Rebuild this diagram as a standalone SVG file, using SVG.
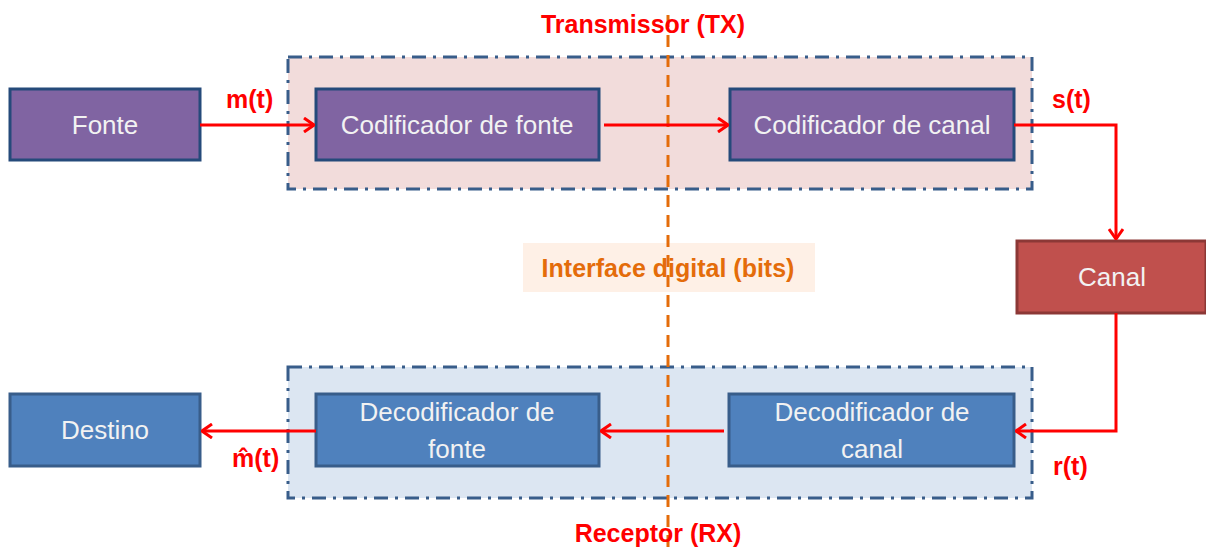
<svg xmlns="http://www.w3.org/2000/svg" width="1206" height="547" viewBox="0 0 1206 547">
<defs>
<style>
.grp{stroke:#385D8A;stroke-width:3;stroke-dasharray:14,7,3,7}
.tx{fill:#F2DCDB}
.rx{fill:#DCE6F2}
.purple{fill:#8064A2;stroke:#254A7A;stroke-width:3}
.blue{fill:#4F81BD;stroke:#385D8A;stroke-width:3}
.red{fill:#C0504D;stroke:#8C3836;stroke-width:3}
.nt{font-family:"Liberation Sans",Arial,sans-serif;font-size:26px;fill:#F2F2F2;text-anchor:middle}
.lbl{font-family:"Liberation Sans",Arial,sans-serif;font-size:25px;font-weight:bold;fill:#FF0000}
.conn{stroke:#FF0000;stroke-width:3;fill:none}
</style>
<marker id="arr" viewBox="0 0 12 16" refX="11" refY="8" markerWidth="12" markerHeight="16" markerUnits="userSpaceOnUse" orient="auto">
<path d="M1,1 L11,8 L1,15" fill="none" stroke="#FF0000" stroke-width="3"/>
</marker>
</defs>
<rect width="1206" height="547" fill="#FFFFFF"/>
<g id="tx-group">
<rect class="grp tx" x="288" y="57" width="744" height="132"/>
</g>
<g id="rx-group">
<rect class="grp rx" x="288" y="367" width="744" height="131"/>
</g>
<g id="interface">
<rect x="523" y="243" width="292" height="49" fill="#FEF0E6"/>
<line x1="668" y1="15" x2="668" y2="547" stroke="#E46C0A" stroke-width="3" stroke-dasharray="12,8"/>
<text x="668" y="277" font-family="Liberation Sans,Arial,sans-serif" font-size="25" font-weight="bold" fill="#E46C0A" text-anchor="middle">Interface digital (bits)</text>
</g>
<g id="fonte"><rect class="purple" x="10" y="89" width="190" height="71"/><text class="nt" x="105" y="134">Fonte</text></g>
<g id="cod-fonte"><rect class="purple" x="316" y="89" width="283" height="71"/><text class="nt" x="457" y="134">Codificador de fonte</text></g>
<g id="cod-canal"><rect class="purple" x="730" y="89" width="284" height="71"/><text class="nt" x="872" y="134">Codificador de canal</text></g>
<g id="canal"><rect class="red" x="1017" y="241" width="189" height="72"/><text class="nt" x="1112" y="286">Canal</text></g>
<g id="dec-canal"><rect class="blue" x="729" y="394" width="285" height="72"/><text class="nt" x="872" y="421">Decodificador de</text><text class="nt" x="872" y="458">canal</text></g>
<g id="dec-fonte"><rect class="blue" x="316" y="394" width="283" height="72"/><text class="nt" x="457" y="421">Decodificador de</text><text class="nt" x="457" y="458">fonte</text></g>
<g id="destino"><rect class="blue" x="10" y="394" width="190" height="72"/><text class="nt" x="105" y="439">Destino</text></g>
<g id="connectors">
<line class="conn" x1="200" y1="125" x2="314" y2="125" marker-end="url(#arr)"/>
<line class="conn" x1="604" y1="125" x2="728" y2="125" marker-end="url(#arr)"/>
<polyline class="conn" points="1014,125 1116,125 1116,239" marker-end="url(#arr)"/>
<polyline class="conn" points="1116,313 1116,431 1016,431" marker-end="url(#arr)"/>
<line class="conn" x1="724" y1="431" x2="601" y2="431" marker-end="url(#arr)"/>
<line class="conn" x1="316" y1="431" x2="202" y2="431" marker-end="url(#arr)"/>
</g>
<g id="labels">
<text class="lbl" x="226" y="108">m(t)</text>
<text class="lbl" x="1052" y="108">s(t)</text>
<text class="lbl" x="1053" y="475">r(t)</text>
<text class="lbl" x="232" y="467">m̂(t)</text>
<text class="lbl" x="643" y="33" text-anchor="middle">Transmissor (TX)</text>
<text class="lbl" x="658" y="542" text-anchor="middle">Receptor (RX)</text>
</g>
</svg>
